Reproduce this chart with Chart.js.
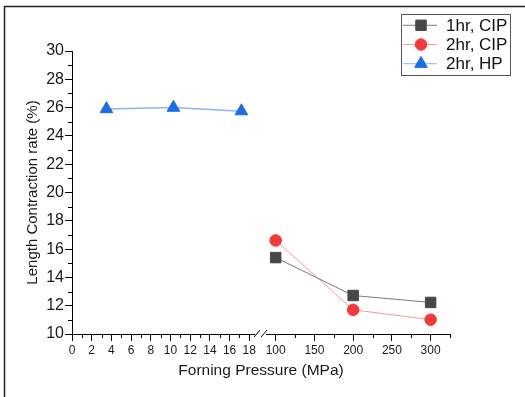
<!DOCTYPE html>
<html>
<head>
<meta charset="utf-8">
<script src="https://cdn.jsdelivr.net/npm/chart.js@4.4.1/dist/chart.umd.min.js"></script>
<style>
  html, body { margin: 0; padding: 0; background: #fff; }
  canvas { display: block; }
</style>
</head>
<body>
<canvas id="myChart" width="525" height="397"></canvas>
<script>
// values
const hpPressure = [3.5, 10.3, 17.2];
const hpContraction = [25.9, 26.0, 25.75];
const cipPressure = [100, 200, 300];
const cip1hContraction = [15.4, 12.72, 12.23];
const cip2hContraction = [16.61, 11.71, 11.01];
const seriesLabels = ['1hr, CIP', '2hr, CIP', '2hr, HP'];

// tick labels
const xLeftTicks = [0, 2, 4, 6, 8, 10, 12, 14, 16, 18];
const xRightTicks = [100, 150, 200, 250, 300];
const yTicks = [10, 12, 14, 16, 18, 20, 22, 24, 26, 28, 30];
const xLeftMinor = [1, 3, 5, 7, 9, 11, 13, 15, 17];
const xRightMinor = [125, 175, 225, 275, 325];
const yMinor = [11, 13, 15, 17, 19, 21, 23, 25, 27, 29];

Chart.defaults.font.family = "'Liberation Sans', Arial, sans-serif";
Chart.defaults.color = '#1a1a1a';

const pts = (xs, ys) => xs.map((x, i) => ({x: x, y: ys[i]}));

const data = {
  datasets: [{
    label: seriesLabels[0],
    data: pts(cipPressure, cip1hContraction),
    xAxisID: 'xr',
    borderColor: '#7a7a7a',
    borderWidth: 1,
    pointStyle: 'rect',
    pointRadius: 7.4,
    pointBackgroundColor: '#474747',
    pointBorderColor: '#474747',
    pointBorderWidth: 1
  }, {
    label: seriesLabels[1],
    data: pts(cipPressure, cip2hContraction),
    xAxisID: 'xr',
    borderColor: '#f39a9a',
    borderWidth: 1,
    pointStyle: 'circle',
    pointRadius: 5.8,
    pointBackgroundColor: '#f03a3e',
    pointBorderColor: '#f03a3e',
    pointBorderWidth: 1
  }, {
    label: seriesLabels[2],
    data: pts(hpPressure, hpContraction),
    xAxisID: 'xl',
    borderColor: '#8db6ee',
    borderWidth: 1.5,
    pointStyle: 'triangle',
    pointRadius: 7.3,
    pointBackgroundColor: '#1d6ee0',
    pointBorderColor: '#1d6ee0',
    pointBorderWidth: 1
  }]
};

const axisGrid = {drawOnChartArea: false, drawTicks: true, tickLength: 7, tickColor: '#000'};
const axisBorder = {display: true, color: '#000', width: 1};

// small helper for legend markers
function marker(ctx, style, r, x, y) {
  ctx.beginPath();
  if (style === 'rect') {
    const s = r * Math.SQRT1_2;
    ctx.rect(x - s, y - s, 2 * s, 2 * s);
  } else if (style === 'circle') {
    ctx.arc(x, y, r, 0, Math.PI * 2);
  } else {
    ctx.moveTo(x, y - r);
    ctx.lineTo(x + r * Math.sin(Math.PI * 2 / 3), y + r / 2);
    ctx.lineTo(x - r * Math.sin(Math.PI * 2 / 3), y + r / 2);
    ctx.closePath();
  }
  ctx.fill();
  ctx.stroke();
}

// outer frame
const frame = {
  id: 'frame',
  beforeDraw(chart) {
    const {ctx} = chart;
    ctx.save();
    ctx.strokeStyle = '#222';
    ctx.lineWidth = 1.5;
    ctx.strokeRect(4.5, 6.5, 560, 420);
    ctx.restore();
  }
};

// minor ticks, axis break, x title, legend
const extras = {
  id: 'extras',
  afterDraw(chart) {
    const {ctx, chartArea, scales: {xl, xr, y}} = chart;
    ctx.save();
    ctx.strokeStyle = '#000';
    ctx.lineWidth = 1;
    ctx.beginPath();
    xLeftMinor.forEach(v => {
      const px = Math.round(xl.getPixelForValue(v)) + 0.5;
      ctx.moveTo(px, xl.top); ctx.lineTo(px, xl.top + 4);
    });
    xRightMinor.forEach(v => {
      const px = Math.round(xr.getPixelForValue(v)) + 0.5;
      ctx.moveTo(px, xr.top); ctx.lineTo(px, xr.top + 4);
    });
    yMinor.forEach(v => {
      const py = Math.round(y.getPixelForValue(v)) + 0.5;
      ctx.moveTo(y.right, py); ctx.lineTo(y.right - 4, py);
    });
    ctx.stroke();

    // break marks
    const j = xl.right;
    const by = xl.top;
    ctx.fillStyle = '#fff';
    ctx.fillRect(j - 9, by - 2, 11, 4);
    ctx.beginPath();
    ctx.moveTo(j - 10, by + 3); ctx.lineTo(j - 4, by - 4);
    ctx.moveTo(j - 3, by + 3); ctx.lineTo(j + 3, by - 4);
    ctx.stroke();

    // x title
    ctx.fillStyle = '#1a1a1a';
    ctx.font = "15.5px 'Liberation Sans', Arial, sans-serif";
    ctx.textAlign = 'center';
    ctx.textBaseline = 'middle';
    ctx.fillText('Forning Pressure (MPa)', (chartArea.left + chartArea.right) / 2, 371);

    // legend
    ctx.strokeStyle = '#555';
    ctx.strokeRect(401.5, 14.5, 109, 61);
    ctx.font = "17px 'Liberation Sans', Arial, sans-serif";
    ctx.textAlign = 'left';
    chart.data.datasets.forEach((ds, i) => {
      const ry = 25.3 + i * 19.2;
      ctx.strokeStyle = ds.borderColor;
      ctx.lineWidth = 1;
      ctx.beginPath();
      ctx.moveTo(403, ry); ctx.lineTo(437, ry);
      ctx.stroke();
      ctx.fillStyle = ds.pointBackgroundColor;
      ctx.strokeStyle = ds.pointBorderColor;
      marker(ctx, ds.pointStyle, ds.pointRadius, 421, ry);
      ctx.fillStyle = '#111';
      ctx.fillText(ds.label, 446, ry + 1);
    });
    ctx.restore();
  }
};

const config = {
  type: 'line',
  data,
  options: {
    responsive: false,
    animation: false,
    devicePixelRatio: 1,
    layout: {padding: {top: 51, right: 75, left: 0, bottom: 0}},
    scales: {
      xl: {
        type: 'linear',
        position: 'bottom',
        stack: 'pressure',
        stackWeight: 191.7,
        min: 0,
        max: 19.5,
        afterBuildTicks: s => { s.ticks = xLeftTicks.map(v => ({value: v})); },
        afterFit: s => { s.height = 63; },
        grid: axisGrid,
        border: axisBorder,
        ticks: {font: {size: 12}, padding: 2, maxRotation: 0, autoSkip: false}
      },
      xr: {
        type: 'linear',
        position: 'bottom',
        stack: 'pressure',
        stackWeight: 185.6,
        min: 85,
        max: 325,
        afterBuildTicks: s => { s.ticks = xRightTicks.map(v => ({value: v})); },
        afterFit: s => { s.height = 63; },
        grid: axisGrid,
        border: axisBorder,
        ticks: {font: {size: 12}, padding: 2, maxRotation: 0, autoSkip: false}
      },
      y: {
        type: 'linear',
        position: 'left',
        min: 10,
        max: 30,
        afterBuildTicks: s => { s.ticks = yTicks.map(v => ({value: v})); },
        afterFit: s => { s.width = 72; },
        grid: axisGrid,
        border: axisBorder,
        ticks: {font: {size: 16}, padding: 1, autoSkip: false},
        title: {
          display: true,
          text: 'Length Contraction rate (%)',
          font: {size: 15},
          padding: {top: 24, bottom: 0}
        }
      }
    },
    plugins: {
      legend: {display: false},
      tooltip: {enabled: false}
    }
  },
  plugins: [frame, extras]
};

const myChart = new Chart(document.getElementById('myChart'), config);
</script>
</body>
</html>
